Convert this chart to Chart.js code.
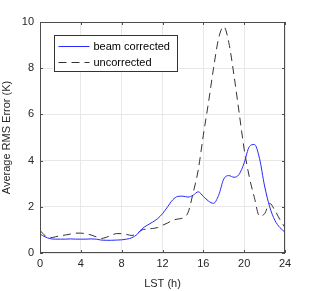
<!DOCTYPE html>
<html>
<head>
<meta charset="utf-8">
<script src="https://cdn.jsdelivr.net/npm/chart.js@4/dist/chart.umd.min.js"></script>
<style>
  html, body { margin: 0; padding: 0; background: #fff; }
  #chart { display: block; }
</style>
</head>
<body>
<canvas id="chart" width="315" height="291"></canvas>
<script>
// LST hours, every half hour
const hours = [0,0.5,1,1.5,2,2.5,3,3.5,4,4.5,5,5.5,6,6.5,7,7.5,8,8.5,9,9.5,10,10.5,11,11.5,12,
  12.5,13,13.5,14,14.5,15,15.5,16,16.5,17,17.5,18,18.5,19,19.5,20,20.5,21,21.5,22,22.5,23,23.5,24];

const beamCorrected = [0.82,0.7,0.62,0.6,0.6,0.6,0.61,0.6,0.6,0.6,0.61,0.6,0.56,0.55,0.55,0.56,0.57,0.6,0.66,0.8,1.05,
  1.2,1.33,1.48,1.7,2.0,2.3,2.45,2.46,2.42,2.5,2.65,2.45,2.25,2.15,2.5,3.2,3.35,3.28,3.4,3.9,4.6,4.7,4.1,2.9,2.0,1.42,1.1,0.9];

const uncorrected = [0.98,0.75,0.66,0.7,0.75,0.78,0.82,0.86,0.86,0.83,0.78,0.7,0.63,0.68,0.77,0.84,0.84,0.8,0.76,0.85,1.0,
  1.04,1.06,1.1,1.2,1.3,1.42,1.47,1.52,1.75,2.6,3.6,5.1,6.5,8.0,9.3,9.8,9.1,7.7,6.1,4.5,3.3,2.4,1.6,1.7,2.15,1.85,1.45,1.1];

const xTicks = [0, 4, 8, 12, 16, 20, 24];
const yTicks = [0, 2, 4, 6, 8, 10];
const seriesNames = ['beam corrected', 'uncorrected'];

const axisColor = '#4d4d4d';
const textColor = '#262626';
const font = { family: 'Liberation Sans, Arial, sans-serif', size: 11 };

const toPoints = (vals) => vals.map((v, i) => ({ x: hours[i], y: v }));

// box round the axes, inner ticks and the legend, drawn MATLAB style
const boxPlugin = {
  id: 'box',
  afterDraw(chart) {
    const { ctx, chartArea: a, scales } = chart;
    ctx.save();
    ctx.strokeStyle = axisColor;
    ctx.lineWidth = 1;
    ctx.strokeRect(a.left + 0.5, a.top + 0.5, a.right - a.left - 1, a.bottom - a.top - 1);
    ctx.beginPath();
    xTicks.forEach(t => {
      const x = Math.round(scales.x.getPixelForValue(t)) + 0.5;
      ctx.moveTo(x, a.bottom); ctx.lineTo(x, a.bottom - 3);
      ctx.moveTo(x, a.top); ctx.lineTo(x, a.top + 3);
    });
    yTicks.forEach(t => {
      const y = Math.round(scales.y.getPixelForValue(t)) + 0.5;
      ctx.moveTo(a.left, y); ctx.lineTo(a.left + 3, y);
      ctx.moveTo(a.right, y); ctx.lineTo(a.right - 3, y);
    });
    ctx.stroke();

    // legend
    const lx = 54.5, ly = 35.5, lw = 123, lh = 36;
    ctx.fillStyle = '#fff';
    ctx.fillRect(lx, ly, lw, lh);
    ctx.strokeStyle = '#333';
    ctx.strokeRect(lx, ly, lw, lh);
    const rows = [
      { label: seriesNames[0], color: 'rgb(40,40,255)', dash: [] },
      { label: seriesNames[1], color: '#333', dash: [8, 5] }
    ];
    rows.forEach((r, i) => {
      const y = ly + 11 + i * 16;
      ctx.beginPath();
      ctx.setLineDash(r.dash);
      ctx.strokeStyle = r.color;
      ctx.moveTo(lx + 4, y); ctx.lineTo(lx + 35, y);
      ctx.stroke();
      ctx.setLineDash([]);
      ctx.fillStyle = '#000';
      ctx.font = '11px ' + font.family;
      ctx.textBaseline = 'middle';
      ctx.fillText(r.label, lx + 39, y);
    });
    ctx.restore();
  }
};

new Chart(document.getElementById('chart'), {
  type: 'line',
  data: {
    datasets: [
      {
        label: seriesNames[0],
        data: toPoints(beamCorrected),
        borderColor: 'rgb(40,40,255)',
        borderWidth: 1,
        pointRadius: 0,
        cubicInterpolationMode: 'monotone'
      },
      {
        label: seriesNames[1],
        data: toPoints(uncorrected),
        borderColor: '#333',
        borderWidth: 1,
        borderDash: [8, 5],
        pointRadius: 0,
        cubicInterpolationMode: 'monotone'
      }
    ]
  },
  options: {
    responsive: false,
    animation: false,
    layout: { padding: { left: 0, right: 30, top: 22, bottom: 0 } },
    plugins: { legend: { display: false }, tooltip: { enabled: false } },
    scales: {
      x: {
        type: 'linear',
        min: 0,
        max: 24,
        afterBuildTicks: (s) => { s.ticks = xTicks.map(v => ({ value: v })); },
        afterFit: (s) => { s.height = 38; },
        ticks: { color: textColor, font, padding: 4, maxRotation: 0 },
        grid: { color: '#e8e8e8', drawTicks: false },
        border: { display: false },
        title: { display: true, text: 'LST (h)', color: textColor, font, padding: { top: 2, bottom: 0 } }
      },
      y: {
        min: 0,
        max: 10,
        afterBuildTicks: (s) => { s.ticks = yTicks.map(v => ({ value: v })); },
        afterFit: (s) => { s.width = 40; },
        ticks: { color: textColor, font, padding: 6 },
        grid: { color: '#e8e8e8', drawTicks: false },
        border: { display: false },
        title: { display: true, text: 'Average RMS Error (K)', color: textColor, font, padding: { top: 0, bottom: 2 } }
      }
    }
  },
  plugins: [boxPlugin]
});
</script>
</body>
</html>
